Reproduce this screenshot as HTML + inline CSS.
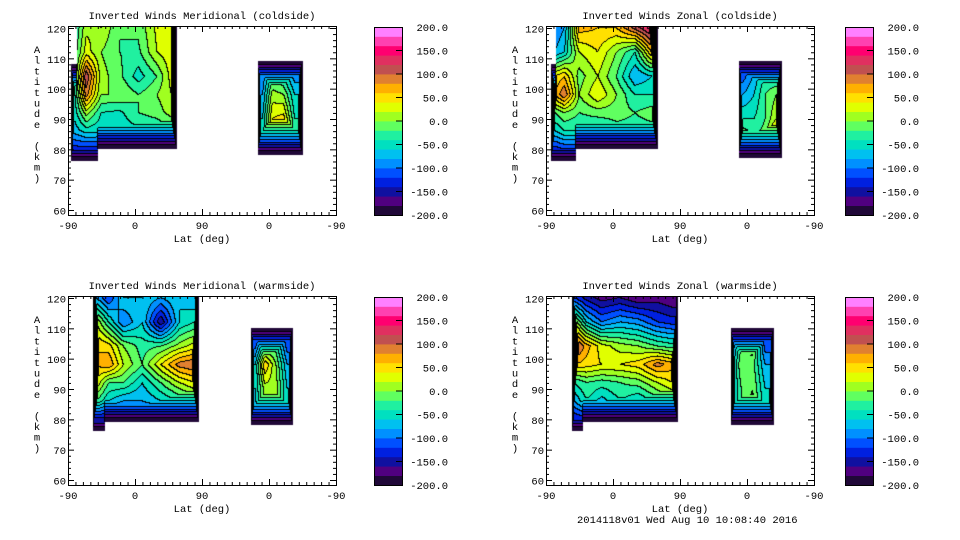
<!DOCTYPE html>
<html><head><meta charset="utf-8"><style>
body{margin:0;background:#fff;width:960px;height:540px;overflow:hidden;position:relative;font-family:"Liberation Mono","DejaVu Sans Mono",monospace;}
canvas{position:absolute;}
svg{position:absolute;left:0;top:0;}
text{font-family:"Liberation Mono","DejaVu Sans Mono",monospace;font-size:10.5px;fill:#000;}
</style></head><body>
<canvas id="c0" width="268" height="189" style="left:68px;top:26px"></canvas>
<canvas id="c1" width="269" height="189" style="left:546px;top:26px"></canvas>
<canvas id="c2" width="268" height="189" style="left:68px;top:296px"></canvas>
<canvas id="c3" width="269" height="189" style="left:546px;top:296px"></canvas>
<svg id="ov" width="960" height="540"></svg>
<script>
// colour levels, bottom (-200) to top (200), step 20
const levelColors=["#200838","#500080","#1010a0","#0020e0","#0050ff","#0090ff","#00c0f0","#00e0c0","#20f0a0","#60ff60","#a0ff20","#e0ff00","#ffe000","#ffb000","#e08030","#c05050","#e03060","#ff0070","#ff40b0","#ff80ff"];
const cbTickLabels=["200.0","150.0","100.0","50.0","0.0","-50.0","-100.0","-150.0","-200.0"];
const xTickLabels=["-90","0","90","0","-90"];
const yTickLabels=["120","110","100","90","80","70","60"];
const titles=["Inverted Winds Meridional (coldside)","Inverted Winds Zonal (coldside)","Inverted Winds Meridional (warmside)","Inverted Winds Zonal (warmside)"];

const rowsA=[120,112,104,98,92,86,80];
const rowsB=[106,98,90,84,80];
// Panel 0: meridional coldside
const p0A_cols=[10,25,45,70,95,120,140];
const p0A_vals=[[-40,15,20,-20,-15,25,30],[-30,30,0,-20,-25,20,35],[-20,120,10,-15,-50,-20,30],[-40,90,0,0,-20,0,20],[-50,10,-40,-45,-20,-10,10],[-70,-50,-55,-55,-45,-40,-30],[-130,-130,-130,-135,-135,-130,-110]];
const p0B_cols=[262,275,290,305];
const p0B_vals=[[-100,-40,-60,-100],[-80,10,0,-60],[-60,40,50,-40],[-50,60,100,-30],[-120,-80,-60,-120]];
// Panel 1: zonal coldside
const p1A_cols=[12,25,45,70,95,120,142];
const p1A_vals=[[-100,-80,70,60,60,110,150],[-80,-60,20,40,0,-40,60],[40,60,-10,20,-20,-80,-60],[60,100,0,40,0,-40,-40],[-20,0,-20,-10,-10,-20,-10],[-60,-40,-40,-50,-30,-30,-30],[-130,-120,-120,-130,-130,-130,-120]];
const p1B_cols=[265,280,295,310];
const p1B_vals=[[-120,-80,-40,-60],[-80,-60,-20,0],[-40,-40,-20,20],[0,-20,-10,90],[-120,-100,-80,-80]];
// Panel 2: meridional warmside
const p2A_cols=[38,55,75,100,125,150,170];
const p2A_vals=[[-80,-120,-60,-60,-80,-60,-80],[20,-40,-100,-60,-160,-60,-40],[60,50,0,-30,-20,10,30],[60,80,20,-20,40,90,100],[40,-20,-20,-60,-20,20,40],[-20,-60,-80,-80,-60,-40,-20],[-150,-150,-140,-130,-140,-140,-130]];
const p2B_cols=[252,265,280,295];
const p2B_vals=[[-120,-60,-40,-120],[-60,60,0,-80],[-60,10,10,-60],[-70,10,10,-60],[-150,-120,-120,-150]];
// Panel 3: zonal warmside
const p3A_cols=[38,55,75,100,125,150,170];
const p3A_vals=[[-120,-150,-170,-160,-180,-170,-180],[20,-60,-100,-80,-90,-120,-130],[120,70,30,10,0,-20,-30],[60,50,40,40,50,90,70],[-40,-20,-30,-20,-10,20,40],[-80,-40,-70,-40,-60,-30,-10],[-140,-130,-130,-130,-130,-120,-120]];
const p3B_cols=[249,263,278,295];
const p3B_vals=[[-120,-20,20,-120],[-80,0,-10,-80],[-80,-20,0,-60],[-80,-20,10,-60],[-150,-130,-120,-150]];

const panels=[
 {id:"c0",ox:68,oy:26,regs:[
  {cols:p0A_cols,rows:rowsA,vals:p0A_vals,u0:4,u1:146,top:121,stepU:12,stepTop:108,botL:76,botR:80,botU:40},
  {cols:p0B_cols,rows:rowsB,vals:p0B_vals,u0:255,u1:315,top:109,botL:78,botR:78,botU:0}]},
 {id:"c1",ox:546,oy:26,regs:[
  {cols:p1A_cols,rows:rowsA,vals:p1A_vals,u0:7,u1:150,top:121,stepU:14,stepTop:108,botL:76,botR:80,botU:40},
  {cols:p1B_cols,rows:rowsB,vals:p1B_vals,u0:259,u1:317,top:109,botL:77,botR:77,botU:0}]},
 {id:"c2",ox:68,oy:296,regs:[
  {cols:p2A_cols,rows:rowsA,vals:p2A_vals,u0:34,u1:176,top:121,stepU:0,stepTop:121,botL:76,botR:79,botU:50},
  {cols:p2B_cols,rows:rowsB,vals:p2B_vals,u0:246,u1:302,top:110,botL:78,botR:78,botU:0}]},
 {id:"c3",ox:546,oy:296,regs:[
  {cols:p3A_cols,rows:rowsA,vals:p3A_vals,u0:35,u1:177,top:121,stepU:0,stepTop:121,botL:76,botR:79,botU:50},
  {cols:p3B_cols,rows:rowsB,vals:p3B_vals,u0:249,u1:306,top:110,botL:78,botR:78,botU:0}]}
];
const PXU=268/360, PXA=182/60;
function interp(cols,rows,vals,u,a){
  let i=0;while(i<cols.length-2&&u>cols[i+1])i++;
  let tx=(u-cols[i])/(cols[i+1]-cols[i]);tx=Math.max(0,Math.min(1,tx));
  let j=0;while(j<rows.length-2&&a<rows[j+1])j++;
  let ty=(rows[j]-a)/(rows[j]-rows[j+1]);ty=Math.max(0,Math.min(1,ty));
  const v00=vals[j][i],v01=vals[j][i+1],v10=vals[j+1][i],v11=vals[j+1][i+1];
  return (v00*(1-tx)+v01*tx)*(1-ty)+(v10*(1-tx)+v11*tx)*ty;
}
function hex(h){return [parseInt(h.substr(1,2),16),parseInt(h.substr(3,2),16),parseInt(h.substr(5,2),16)];}
const rgb=levelColors.map(hex);
panels.forEach(p=>{
  const cv=document.getElementById(p.id),ctx=cv.getContext('2d');
  const W=cv.width,H=cv.height;
  const L=new Int16Array(W*H).fill(-1);
  for(let y=0;y<H;y++){
    const a=120-(y+0.5-2)/PXA;
    for(let x=0;x<W;x++){
      const u=(x+0.5)/PXU;
      for(const r of p.regs){
        if(u<r.u0||u>r.u1)continue;
        const top=(u<r.stepU)?r.stepTop:r.top;
        const bot=(u<r.botU)?r.botL:r.botR;
        if(a<bot||a>top)continue;
        let v=interp(r.cols,r.rows,r.vals,u,a);
        const dx=Math.min(u-r.u0,r.u1-u)*PXU;
        const db=(a-bot)*PXA, dt=top>120?1e9:(top-a)*PXA;
        v=Math.min(v,-210+45*dx,-210+7*db,-210+8*dt);
        let lv=Math.floor((v+200)/20);lv=Math.max(0,Math.min(19,lv));
        L[y*W+x]=lv;break;
      }
    }
  }
  const img=ctx.createImageData(W,H),d=img.data;
  for(let y=0;y<H;y++)for(let x=0;x<W;x++){
    const k=y*W+x,l=L[k],o=k*4;
    if(l<0){d[o]=d[o+1]=d[o+2]=255;d[o+3]=255;continue;}
    let edge=false;
    if(x+1<W&&L[k+1]>=0&&L[k+1]!==l)edge=true;
    if(y+1<H&&L[k+W]>=0&&L[k+W]!==l)edge=true;
    const c=edge?[0,0,0]:rgb[l];
    d[o]=c[0];d[o+1]=c[1];d[o+2]=c[2];d[o+3]=255;
  }
  ctx.putImageData(img,0,0);
});
// overlay: axes, ticks, labels, colorbars
const ov=document.getElementById('ov');
const NS="http://www.w3.org/2000/svg";
function mk(tag,at,txt){const e=document.createElementNS(NS,tag);for(const k in at)e.setAttribute(k,at[k]);if(txt!==undefined)e.textContent=txt;ov.appendChild(e);return e;}
const layout=[{px:68,py:26,cb:374},{px:546,py:26,cb:845},{px:68,py:296,cb:374},{px:546,py:296,cb:845}];
layout.forEach((P,pi)=>{
  const pw=268,ph=189,x0=P.px,y0=P.py;
  const frame=mk('rect',{x:x0+0.5,y:y0+0.5,width:pw,height:ph,fill:'none',stroke:'#000','stroke-width':1});
  
  
  const t=mk('text',{x:x0+pw/2,y:y0-7,'text-anchor':'middle','font-size':'9.9px'},titles[pi]);
  
  
  for(let u=0;u<=360;u+=10){
    const X=x0+0.5+u*PXU, len=(u%90===0)?6:3;
    mk('line',{x1:X,y1:y0+ph,x2:X,y2:y0+ph-len,stroke:'#000'});
    mk('line',{x1:X,y1:y0,x2:X,y2:y0+len,stroke:'#000'});
  }
  xTickLabels.forEach((s,i)=>{
    const lb=mk('text',{x:x0+i*90*PXU,y:y0+ph+14,'text-anchor':'middle'},s);
    
    
  });
  const xl=mk('text',{x:x0+pw/2,y:y0+ph+27,'text-anchor':'middle'},'Lat (deg)');
  
  
  const yA=a=>y0+2.5+(120-a)*PXA;
  for(let a=60;a<=120;a+=2){
    const Y=yA(a),len=(a%10===0)?6:3;
    mk('line',{x1:x0,y1:Y,x2:x0+len,y2:Y,stroke:'#000'});
    mk('line',{x1:x0+pw,y1:Y,x2:x0+pw-len,y2:Y,stroke:'#000'});
  }
  yTickLabels.forEach((s,i)=>{
    const lb=mk('text',{x:x0-2,y:yA(120-10*i)+4,'text-anchor':'end'},s);
    
    
  });
  const ytitle="Altitude (km)";
  for(let i=0;i<ytitle.length;i++){
    const ch=mk('text',{x:x0-31,y:y0+27+i*10.7,'text-anchor':'middle'},ytitle[i]);
    
    
  }
  const cbx=P.cb,cby=y0+1,cbh=188,cbw=28,bh=cbh/levelColors.length;
  levelColors.forEach((c,i)=>{
    const r=mk('rect',{x:cbx,y:cby+cbh-(i+1)*bh,width:cbw,height:bh+0.4,fill:c});
    
    
  });
  mk('rect',{x:cbx+0.5,y:cby+0.5,width:cbw,height:cbh,fill:'none',stroke:'#000'});
  cbTickLabels.forEach((s,i)=>{
    const Y=cby+i*cbh/8;
    if(i>0&&i<8)mk('line',{x1:cbx+cbw-6,y1:Y,x2:cbx+cbw,y2:Y,stroke:'#000'});
    const lb=mk('text',{x:cbx+74,y:Y+4,'text-anchor':'end','font-size':'11px'},s);
    
    
  });
});
const ft=mk('text',{x:577,y:523,'text-anchor':'start','font-size':'11.3px'},'2014118v01 Wed Aug 10 10:08:40 2016');


</script>
</body></html>
